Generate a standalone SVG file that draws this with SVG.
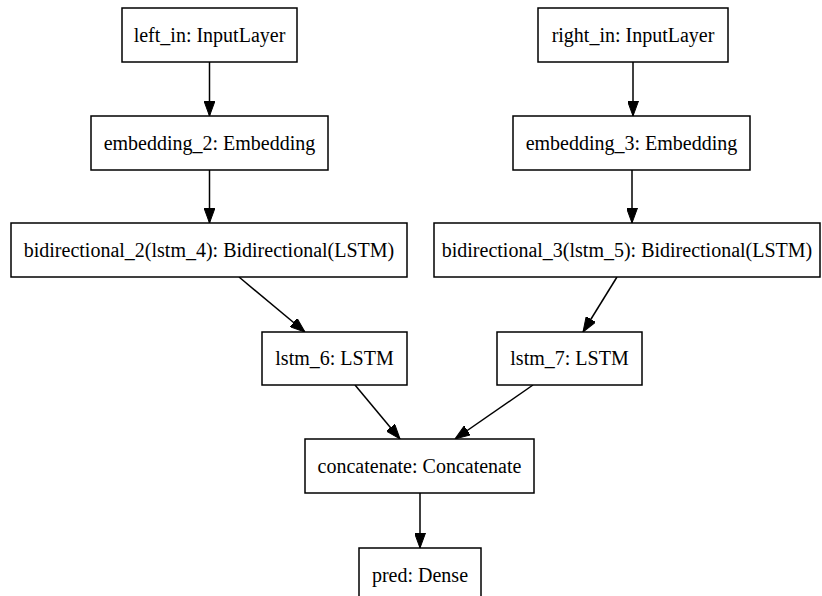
<svg xmlns="http://www.w3.org/2000/svg" width="822" height="596" viewBox="0 0 822 596">
<style>
.box{fill:#fff;stroke:#000;stroke-width:1.5}
.lbl{font-family:"Liberation Serif","Times New Roman",serif;font-size:20px;fill:#000;text-anchor:middle}
.edge{stroke:#000;stroke-width:1.5;fill:none}
</style>
<defs>
<marker id="ah" markerWidth="15" markerHeight="11" refX="15" refY="5.5" orient="auto" markerUnits="userSpaceOnUse">
<path d="M0,0 L15,5.5 L0,11 Z" fill="#000" stroke="#000" stroke-width="1"/>
</marker>
</defs>
<rect width="822" height="596" fill="#fff"/>
<g id="connectors">
<line class="edge" x1="209.5" y1="62" x2="209.5" y2="116" marker-end="url(#ah)"/>
<line class="edge" x1="209.5" y1="170" x2="209.5" y2="223" marker-end="url(#ah)"/>
<line class="edge" x1="633" y1="62" x2="633" y2="116" marker-end="url(#ah)"/>
<line class="edge" x1="632" y1="170" x2="632" y2="223" marker-end="url(#ah)"/>
<line class="edge" x1="239" y1="277" x2="305" y2="332" marker-end="url(#ah)"/>
<line class="edge" x1="617" y1="277" x2="583" y2="332" marker-end="url(#ah)"/>
<line class="edge" x1="355" y1="385" x2="400" y2="439" marker-end="url(#ah)"/>
<line class="edge" x1="533" y1="385" x2="455" y2="439" marker-end="url(#ah)"/>
<line class="edge" x1="420" y1="493" x2="420" y2="548" marker-end="url(#ah)"/>
</g>
<g id="left_in"><rect class="box" x="122" y="8" width="175" height="54"/><text class="lbl" x="209.5" y="42">left_in: InputLayer</text></g>
<g id="right_in"><rect class="box" x="538" y="8" width="190" height="54"/><text class="lbl" x="633" y="42">right_in: InputLayer</text></g>
<g id="embedding_2"><rect class="box" x="91" y="116" width="237" height="54"/><text class="lbl" x="209.5" y="150">embedding_2: Embedding</text></g>
<g id="embedding_3"><rect class="box" x="513" y="116" width="237" height="54"/><text class="lbl" x="631.5" y="150">embedding_3: Embedding</text></g>
<g id="bidirectional_2"><rect class="box" x="11" y="223" width="396" height="54"/><text class="lbl" x="209" y="257">bidirectional_2(lstm_4): Bidirectional(LSTM)</text></g>
<g id="bidirectional_3"><rect class="box" x="434" y="223" width="386" height="54"/><text class="lbl" x="627" y="257">bidirectional_3(lstm_5): Bidirectional(LSTM)</text></g>
<g id="lstm_6"><rect class="box" x="262" y="332" width="145" height="53"/><text class="lbl" x="334.5" y="365">lstm_6: LSTM</text></g>
<g id="lstm_7"><rect class="box" x="497" y="332" width="145" height="53"/><text class="lbl" x="569.5" y="365">lstm_7: LSTM</text></g>
<g id="concatenate"><rect class="box" x="305" y="439" width="229" height="54"/><text class="lbl" x="419.5" y="473">concatenate: Concatenate</text></g>
<g id="pred"><rect class="box" x="359" y="548" width="122" height="54"/><text class="lbl" x="420" y="582">pred: Dense</text></g>
</svg>
